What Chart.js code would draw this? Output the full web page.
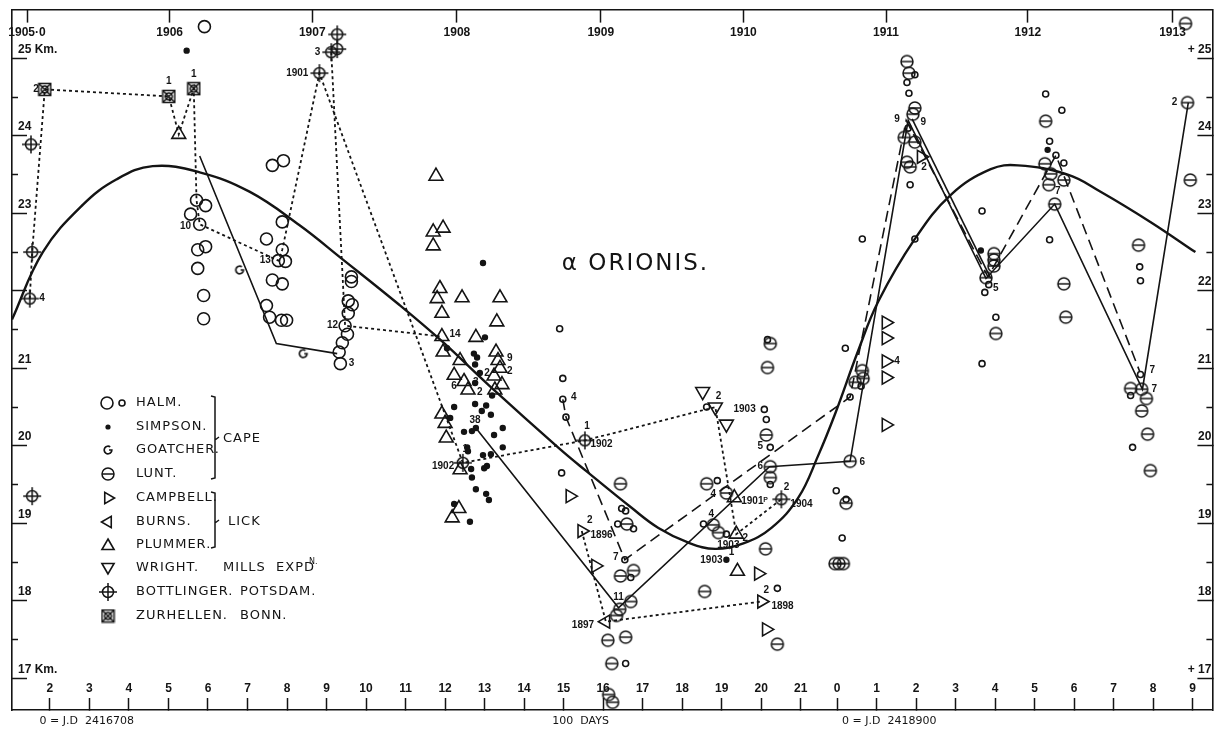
<!DOCTYPE html>
<html>
<head>
<meta charset="utf-8">
<title>α Orionis</title>
<script src="https://cdn.jsdelivr.net/npm/chart.js@4.4.1/dist/chart.umd.min.js"></script>
<style>
  html, body { margin: 0; padding: 0; background: #fff; }
  #wrap { width: 1222px; height: 736px; }
</style>
</head>
<body>
<div id="wrap"><canvas id="chart" width="1222" height="736"></canvas></div>
<script>
// x = hundreds of days after J.D. 2416708, y = radial velocity in km/s

// axis ticks
const xTickVals = [2,3,4,5,6,7,8,9,10,11,12,13,14,15,16,17,18,19,20,21,21.92,22.92,23.92,24.92,25.92,26.92,27.92,28.92,29.92,30.92];
const xTickLabels = ['2','3','4','5','6','7','8','9','10','11','12','13','14','15','16','17','18','19','20','21','0','1','2','3','4','5','6','7','8','9'];
const yearTickVals = [1.42, 5.03, 8.64, 12.30, 15.94, 19.55, 23.16, 26.75, 30.41];
const yearLabels = ['1905·0','1906','1907','1908','1909','1910','1911','1912','1913'];
const jdTickVals = [2.93, 15.43, 23.24];
const jdLabels = ['0 = J.D  2416708', '100  DAYS', '0 = J.D  2418900'];
const yTickVals = [17,18,19,20,21,22,23,24,25];
const yMinorVals = [17.5,18.5,19.5,20.5,21.5,22.5,23.5,24.5];
const yLeftLabels = ['17 Km.','18','19','20','21','','23','24','25 Km.'];
const yRightLabels = ['+ 17','18','19','20','21','22','23','24','+ 25'];

// observers
const halmBig = [[5.91,25.41],[7.63,23.62],[7.91,23.68],[5.71,23.17],[5.94,23.10],[5.56,22.99],[5.79,22.86],[7.88,22.89],[7.48,22.67],[7.88,22.53],[5.74,22.53],[5.94,22.57],[7.78,22.39],[7.96,22.38],[5.74,22.29],[7.63,22.14],[7.88,22.09],[5.89,21.94],[5.89,21.64],[7.48,21.81],[7.56,21.66],[7.86,21.62],[7.99,21.62],[9.63,22.18],[9.63,22.12],[9.55,21.87],[9.65,21.82],[9.55,21.71],[9.47,21.55],[9.53,21.44],[9.40,21.33],[9.32,21.21],[9.35,21.06]];
const halmSmall = [[14.90,21.51],[14.98,20.87],[14.98,20.60],[15.06,20.37],[14.95,19.65],[16.47,19.19],[16.57,19.16],[16.37,18.99],[16.77,18.93],[18.62,20.50],[20.16,21.37],[20.08,20.47],[20.13,20.34],[20.23,19.98],[20.23,19.50],[18.89,19.55],[18.54,18.99],[19.12,18.86],[16.55,18.53],[16.70,18.30],[16.57,17.19],[20.41,18.16],[21.90,19.42],[22.05,18.81],[22.13,21.26],[22.53,20.77],[22.25,20.63],[22.15,19.31],[25.66,21.98],[25.94,21.66],[25.59,21.06],[29.58,22.31],[29.60,22.13],[29.60,20.92],[29.35,20.65],[29.40,19.98],[23.89,24.79],[23.69,24.69],[23.74,24.55],[23.72,24.10],[23.77,23.37],[22.56,22.67],[23.89,22.67],[25.59,23.03],[25.76,22.08],[27.20,24.54],[27.61,24.33],[27.30,23.93],[27.46,23.75],[27.66,23.65],[27.30,22.66]];
const simpson = [[5.46,25.10],[12.96,22.36],[13.01,21.40],[12.05,21.26],[12.73,21.19],[12.81,21.14],[12.76,21.05],[12.88,20.94],[12.76,20.81],[13.19,20.65],[12.23,20.50],[12.76,20.54],[13.04,20.52],[12.93,20.45],[13.16,20.40],[12.13,20.36],[13.46,20.23],[12.78,20.23],[12.68,20.19],[12.48,20.18],[13.24,20.14],[13.46,19.98],[12.56,19.98],[12.58,19.93],[12.96,19.88],[13.16,19.89],[13.06,19.74],[12.99,19.71],[12.66,19.70],[12.68,19.59],[12.78,19.44],[13.04,19.38],[13.11,19.30],[12.23,19.25],[12.63,19.02],[25.56,22.52],[27.25,23.82],[19.12,18.53]];
const goatcher = [[6.80,22.27],[8.41,21.19]];
const lunt = [[16.44,19.51],[16.60,18.99],[18.79,18.98],[18.92,18.88],[18.62,19.51],[19.12,19.39],[20.11,18.67],[20.23,21.32],[20.16,21.01],[20.13,20.14],[20.23,19.73],[20.23,19.59],[16.44,18.32],[16.77,18.39],[16.70,17.99],[16.42,17.89],[16.34,17.81],[16.12,17.49],[16.57,17.53],[16.22,17.19],[16.14,16.79],[16.24,16.69],[18.57,18.12],[20.41,17.44],[21.87,18.48],[22.15,19.26],[21.97,18.48],[22.08,18.48],[22.56,20.97],[22.58,20.87],[22.38,20.82],[22.25,19.80],[25.94,21.45],[27.66,22.09],[27.71,21.66],[29.35,20.74],[29.63,20.73],[29.75,20.61],[29.63,20.45],[29.78,20.15],[29.85,19.68],[29.55,22.59],[30.74,25.45],[23.69,24.96],[23.74,24.81],[23.89,24.36],[23.84,24.28],[23.62,23.98],[23.89,23.92],[23.69,23.66],[23.77,23.60],[25.89,22.48],[25.89,22.40],[25.89,22.32],[25.69,22.17],[27.20,24.19],[27.18,23.64],[27.33,23.51],[27.66,23.43],[27.28,23.37],[27.43,23.12],[30.79,24.43],[30.86,23.43]];
const campbell = [[15.16,19.35],[15.46,18.90],[15.81,18.45],[19.93,18.35],[20.01,17.99],[20.13,17.63],[23.16,21.59],[23.16,21.39],[23.16,21.09],[23.16,20.88],[23.16,20.27],[24.05,23.73]];
const burns = [[16.07,17.73]];
const plummer = [[5.26,24.02],[11.77,23.48],[11.70,22.76],[11.95,22.81],[11.70,22.58],[11.87,22.03],[11.80,21.90],[12.43,21.91],[13.39,21.91],[11.92,21.71],[13.31,21.60],[11.92,21.41],[12.78,21.40],[11.95,21.21],[12.38,21.10],[13.29,21.21],[13.34,21.10],[13.39,21.00],[12.23,20.91],[12.48,20.83],[13.24,20.90],[13.44,20.79],[12.58,20.72],[13.26,20.72],[11.92,20.41],[12.00,20.29],[12.03,20.10],[12.38,19.69],[12.35,19.19],[12.18,19.07],[19.32,19.33],[19.37,18.86],[19.40,18.38]];
const wright = [[18.52,20.70],[18.84,20.50],[19.12,20.28]];
const bottlinger = [[1.52,23.89],[1.55,22.50],[1.49,21.90],[1.55,19.35],[8.82,24.81],[9.12,25.08],[9.27,25.12],[9.27,25.31],[12.45,19.78],[15.54,20.07],[20.51,19.31]];
const zurhellen = [[1.87,24.60],[5.01,24.51],[5.64,24.61]];

// drawn curves and connecting lines
const meanCurve = [[1.04,21.63],[1.82,22.50],[2.83,23.11],[3.69,23.44],[4.60,23.61],[5.79,23.53],[7.05,23.28],[8.31,22.85],[9.40,22.41],[10.84,21.82],[11.92,21.35],[13.11,20.78],[14.88,19.97],[15.56,19.68],[16.72,19.20],[17.40,18.94],[18.16,18.75],[18.84,18.67],[19.55,18.74],[20.26,18.94],[20.94,19.33],[21.44,19.87],[21.87,20.41],[22.45,21.22],[22.96,21.86],[23.89,22.67],[24.80,23.24],[25.81,23.57],[26.50,23.62],[27.76,23.50],[28.59,23.28],[29.85,22.89],[30.99,22.50]];
const dottedA = [[1.49,21.90],[1.55,22.50],[1.87,24.60],[5.01,24.51],[5.26,24.02],[5.64,24.61],[5.71,23.17],[5.79,22.86],[7.78,22.39],[7.88,22.53],[8.82,24.81],[12.45,19.78],[15.54,20.07],[18.84,20.50],[19.37,18.86],[20.51,19.31]];
const dottedB = [[9.12,25.08],[9.47,21.55],[11.92,21.41]];
const dottedC = [[15.46,18.90],[16.07,17.73],[20.01,17.99]];
const dashedPath = [[14.98,20.60],[15.06,20.37],[16.55,18.53],[22.25,20.63],[23.67,24.20],[25.74,22.18],[27.46,23.75],[29.58,20.96]];
const solidA = [[5.79,23.74],[7.73,21.32],[9.27,21.19]];
const solidB = [[12.78,20.23],[16.39,17.91],[20.21,19.73],[22.25,19.80],[23.72,24.20],[25.69,22.16],[27.43,23.12],[29.65,20.73],[30.81,24.43]];
const solidC = [[23.82,24.22],[25.81,22.16]];

// small numbers written beside the points
const notes = [[1.65,24.60,'2'],[5.01,24.70,'1'],[5.64,24.79,'1'],[5.43,22.84,'10'],[7.45,22.39,'13'],[9.15,21.55,'12'],[9.63,21.06,'3'],[8.77,25.08,'3'],[8.26,24.81,'1901'],[12.25,21.44,'14'],[1.80,21.91,'4'],[15.26,20.63,'4'],[11.95,19.74,'1902'],[12.51,19.95,'1'],[15.96,20.02,'1902'],[15.59,20.25,'1'],[18.92,20.64,'2'],[19.58,20.47,'1903'],[19.98,20.00,'5'],[19.98,19.73,'6'],[18.79,19.38,'4'],[18.74,19.12,'4'],[19.83,19.29,'1901ᴾ'],[20.64,19.47,'2'],[21.02,19.25,'1904'],[19.60,18.81,'2'],[19.17,18.71,'1903'],[15.66,19.04,'2'],[15.96,18.85,'1896'],[16.32,18.56,'7'],[16.39,18.04,'11'],[15.49,17.68,'1897'],[18.74,18.52,'1903'],[19.25,18.62,'1'],[20.13,18.13,'2'],[20.54,17.93,'1898'],[22.56,19.79,'6'],[23.44,21.09,'4'],[23.44,24.22,'9'],[24.10,24.18,'9'],[24.12,23.60,'2'],[25.94,22.03,'5'],[27.51,23.28,'7'],[29.90,20.97,'7'],[29.95,20.73,'7'],[30.46,24.43,'2'],[12.76,20.33,'38'],[12.23,20.77,'6'],[12.78,20.82,'3'],[12.88,20.69,'2'],[13.06,20.94,'2'],[13.64,20.96,'2'],[13.64,21.13,'9']];
const titleText = 'α ORIONIS.';
const titleAt = [16.82, 22.35];

const INK = '#141414';
const NONE = 'rgba(0,0,0,0)';

function glyph(w, h, draw) {
  const c = document.createElement('canvas');
  c.width = w; c.height = h;
  const g = c.getContext('2d');
  g.strokeStyle = INK; g.lineWidth = 1.5;
  draw(g);
  return c;
}
const luntGlyph = glyph(16, 16, g => {
  g.beginPath(); g.arc(8, 8, 6, 0, Math.PI * 2); g.stroke();
  g.beginPath(); g.moveTo(2, 8); g.lineTo(14, 8); g.stroke();
});
const bottGlyph = glyph(20, 20, g => {
  g.beginPath(); g.arc(10, 10, 5.5, 0, Math.PI * 2); g.stroke();
  g.beginPath(); g.moveTo(10, 1); g.lineTo(10, 19); g.moveTo(1, 10); g.lineTo(19, 10); g.stroke();
});
const zurhGlyph = glyph(15, 15, g => {
  g.strokeRect(1.5, 1.5, 12, 12);
  g.beginPath(); g.moveTo(1.5, 1.5); g.lineTo(13.5, 13.5); g.moveTo(13.5, 1.5); g.lineTo(1.5, 13.5); g.stroke();
  g.beginPath(); g.arc(7.5, 7.5, 3.5, 0, Math.PI * 2); g.stroke();
});
const goatGlyph = glyph(12, 12, g => {
  g.lineWidth = 1.7;
  g.beginPath(); g.arc(6, 6, 3.8, -0.3 * Math.PI, 0, true); g.lineTo(7, 6); g.stroke();
});

const pt = a => a.map(([x, y]) => ({x, y}));

function marks(label, arr, style) {
  return Object.assign({
    label, data: pt(arr), showLine: false,
    borderColor: INK, backgroundColor: NONE,
    pointBorderColor: INK, pointBackgroundColor: NONE, pointBorderWidth: 1.6
  }, style);
}
function path(label, arr, style) {
  return Object.assign({
    label, data: pt(arr), showLine: true, pointRadius: 0, pointHoverRadius: 0,
    borderColor: INK, borderWidth: 1.6, fill: false, tension: 0
  }, style);
}

const datasets = [
  marks('Halm', halmBig, {pointStyle: 'circle', pointRadius: 6}),
  marks('Halm (small)', halmSmall, {pointStyle: 'circle', pointRadius: 3}),
  marks('Simpson', simpson, {pointStyle: 'circle', pointRadius: 2.4, pointBackgroundColor: INK}),
  marks('Goatcher', goatcher, {pointStyle: goatGlyph, pointRadius: 5}),
  marks('Lunt', lunt, {pointStyle: luntGlyph, pointRadius: 6}),
  marks('Campbell', campbell, {pointStyle: 'triangle', pointRotation: 90, pointRadius: 7.5}),
  marks('Burns', burns, {pointStyle: 'triangle', pointRotation: -90, pointRadius: 7.5}),
  marks('Plummer', plummer, {pointStyle: 'triangle', pointRadius: 8}),
  marks('Wright', wright, {pointStyle: 'triangle', pointRotation: 180, pointRadius: 8}),
  marks('Bottlinger', bottlinger, {pointStyle: bottGlyph, pointRadius: 6}),
  marks('Zurhellen', zurhellen, {pointStyle: zurhGlyph, pointRadius: 6}),
  path('curve', meanCurve, {borderWidth: 2.4, tension: 0.4}),
  path('solid A', solidA),
  path('solid B', solidB),
  path('solid C', solidC),
  path('dashed', dashedPath, {borderDash: [11, 6]}),
  path('dotted A', dottedA, {borderDash: [3, 3], borderWidth: 1.8}),
  path('dotted B', dottedB, {borderDash: [3, 3], borderWidth: 1.8}),
  path('dotted C', dottedC, {borderDash: [3, 3], borderWidth: 1.8})
];

function tri(ctx, x, y, r, deg) {
  let rad = deg * Math.PI / 180;
  ctx.beginPath();
  for (let k = 0; k < 3; k++) {
    ctx.lineTo(x + Math.sin(rad) * r, y - Math.cos(rad) * r);
    rad += Math.PI * 2 / 3;
  }
  ctx.closePath(); ctx.stroke();
}

const overlay = {
  id: 'overlay',
  afterDatasetsDraw(chart) {
    const ctx = chart.ctx;
    const xs = chart.scales.x, ys = chart.scales.y;
    ctx.save();
    ctx.fillStyle = INK; ctx.strokeStyle = INK;
    ctx.textAlign = 'center'; ctx.textBaseline = 'middle';
    ctx.font = 'bold 10px "Liberation Sans Narrow", "Liberation Sans", "DejaVu Sans"';
    notes.forEach(([u, v, t]) => ctx.fillText(t, xs.getPixelForValue(u), ys.getPixelForValue(v)));

    ctx.font = '23px "DejaVu Sans"';
    ctx.letterSpacing = '2px';
    ctx.fillText(titleText, xs.getPixelForValue(titleAt[0]), ys.getPixelForValue(titleAt[1]));
    ctx.letterSpacing = '0px';

    // legend
    const L = chart.chartArea.left;
    const mx = L + 96, tx = L + 124;
    const rows = [403, 427, 450, 474, 498, 522, 545, 568, 592, 616];
    const names = ['HALM.', 'SIMPSON.', 'GOATCHER.', 'LUNT.', 'CAMPBELL.', 'BURNS.', 'PLUMMER.', 'WRIGHT.', 'BOTTLINGER.', 'ZURHELLEN.'];
    ctx.lineWidth = 1.6;
    ctx.beginPath(); ctx.arc(mx - 1, rows[0], 6, 0, Math.PI * 2); ctx.stroke();
    ctx.beginPath(); ctx.arc(mx + 14, rows[0], 3, 0, Math.PI * 2); ctx.stroke();
    ctx.beginPath(); ctx.arc(mx, rows[1], 2.6, 0, Math.PI * 2); ctx.fill();
    ctx.drawImage(goatGlyph, mx - 6, rows[2] - 6);
    ctx.drawImage(luntGlyph, mx - 8, rows[3] - 8);
    tri(ctx, mx, rows[4], 6.5, 90);
    tri(ctx, mx, rows[5], 6.5, -90);
    tri(ctx, mx, rows[6] + 1, 7, 0);
    tri(ctx, mx, rows[7] - 1, 7, 180);
    ctx.drawImage(bottGlyph, mx - 10, rows[8] - 10);
    ctx.drawImage(zurhGlyph, mx - 7.5, rows[9] - 7.5);

    ctx.textAlign = 'left';
    ctx.font = '13px "DejaVu Sans"';
    ctx.letterSpacing = '1px';
    names.forEach((n, i) => ctx.fillText(n, tx, rows[i]));
    ctx.fillText('CAPE', L + 211, 439);
    ctx.fillText('LICK', L + 216, 522);
    ctx.fillText('MILLS  EXPD', L + 211, rows[7]);
    ctx.fillText('POTSDAM.', L + 228, rows[8]);
    ctx.fillText('BONN.', L + 228, rows[9]);
    ctx.font = '8px "DejaVu Sans"';
    ctx.letterSpacing = '0px';
    ctx.fillText('N.', L + 297, rows[7] - 6);

    // braces
    ctx.lineWidth = 1.5;
    ctx.beginPath();
    ctx.moveTo(L + 199, 396); ctx.lineTo(L + 203, 397); ctx.lineTo(L + 203, 478); ctx.lineTo(L + 199, 479);
    ctx.moveTo(L + 203, 440); ctx.lineTo(L + 207, 437);
    ctx.moveTo(L + 199, 492); ctx.lineTo(L + 203, 493); ctx.lineTo(L + 203, 547); ctx.lineTo(L + 199, 548);
    ctx.moveTo(L + 203, 523); ctx.lineTo(L + 207, 520);
    ctx.stroke();
    ctx.restore();
  }
};

const tickFont = {family: '"Liberation Sans", "DejaVu Sans"', size: 12, weight: 'bold'};
const xMin = 1.04, xMax = 31.42, yMin = 16.59, yMax = 25.63;
const setTicks = vals => scale => { scale.ticks = vals.map(v => ({value: v})); };
// fixed axis box sizes, no extra room for overhanging labels
const box = (w, h) => s => {
  if (w !== null) s.width = w;
  if (h !== null) s.height = h;
  s.paddingLeft = 0; s.paddingRight = 0; s.paddingTop = 0; s.paddingBottom = 0;
};

new Chart(document.getElementById('chart'), {
  type: 'scatter',
  data: {datasets},
  options: {
    responsive: false,
    animation: false,
    devicePixelRatio: 1,
    layout: {padding: {top: 7, left: 0, right: 0, bottom: 0}},
    plugins: {legend: {display: false}, tooltip: {enabled: false}},
    events: [],
    scales: {
      x: {
        type: 'linear', position: 'bottom', min: xMin, max: xMax, weight: 0,
        afterBuildTicks: setTicks(xTickVals),
        afterFit: box(null, 2),
        ticks: {callback: (v, i) => xTickLabels[i], autoSkip: false, maxRotation: 0, minRotation: 0,
                mirror: true, padding: 14, color: INK, font: tickFont},
        grid: {drawOnChartArea: false, tickLength: -12, tickWidth: 1.5, tickColor: INK},
        border: {display: true, color: INK, width: 1.6}
      },
      xJD: {
        type: 'linear', position: 'bottom', min: xMin, max: xMax, weight: 1,
        afterBuildTicks: setTicks(jdTickVals),
        afterFit: box(null, 24),
        ticks: {callback: (v, i) => jdLabels[i], autoSkip: false, maxRotation: 0, minRotation: 0,
                padding: 3, color: INK, font: {family: '"DejaVu Sans"', size: 11}},
        grid: {display: false, drawTicks: false},
        border: {display: false}
      },
      xTop: {
        type: 'linear', position: 'top', min: xMin, max: xMax,
        afterBuildTicks: setTicks(yearTickVals),
        afterFit: box(null, 0),
        ticks: {callback: (v, i) => yearLabels[i], autoSkip: false, maxRotation: 0, minRotation: 0,
                mirror: true, padding: 16, color: INK, font: tickFont},
        grid: {drawOnChartArea: false, tickLength: -13, tickWidth: 1.5, tickColor: INK},
        border: {display: true, color: INK, width: 1.6}
      },
      y: {
        type: 'linear', position: 'left', min: yMin, max: yMax, weight: 1,
        afterBuildTicks: setTicks(yTickVals),
        afterFit: box(12, null),
        ticks: {callback: (v, i) => yLeftLabels[i], mirror: true, padding: 6, labelOffset: -9,
                color: INK, font: tickFont},
        grid: {drawOnChartArea: false, tickLength: -15, tickWidth: 1.5, tickColor: INK},
        border: {display: true, color: INK, width: 1.6}
      },
      yMinL: {
        type: 'linear', position: 'left', min: yMin, max: yMax, weight: 0,
        afterBuildTicks: setTicks(yMinorVals),
        afterFit: box(0, null),
        ticks: {display: false},
        grid: {drawOnChartArea: false, tickLength: -6, tickWidth: 1.5, tickColor: INK},
        border: {display: false}
      },
      yR: {
        type: 'linear', position: 'right', min: yMin, max: yMax, weight: 1,
        afterBuildTicks: setTicks(yTickVals),
        afterFit: box(7, null),
        ticks: {callback: (v, i) => yRightLabels[i], mirror: true, padding: -1, labelOffset: -9,
                color: INK, font: tickFont},
        grid: {drawOnChartArea: false, tickLength: -15, tickWidth: 1.5, tickColor: INK},
        border: {display: true, color: INK, width: 1.6}
      },
      yMinR: {
        type: 'linear', position: 'right', min: yMin, max: yMax, weight: 0,
        afterBuildTicks: setTicks(yMinorVals),
        afterFit: box(0, null),
        ticks: {display: false},
        grid: {drawOnChartArea: false, tickLength: -6, tickWidth: 1.5, tickColor: INK},
        border: {display: false}
      }
    }
  },
  plugins: [overlay]
});
</script>
</body>
</html>
